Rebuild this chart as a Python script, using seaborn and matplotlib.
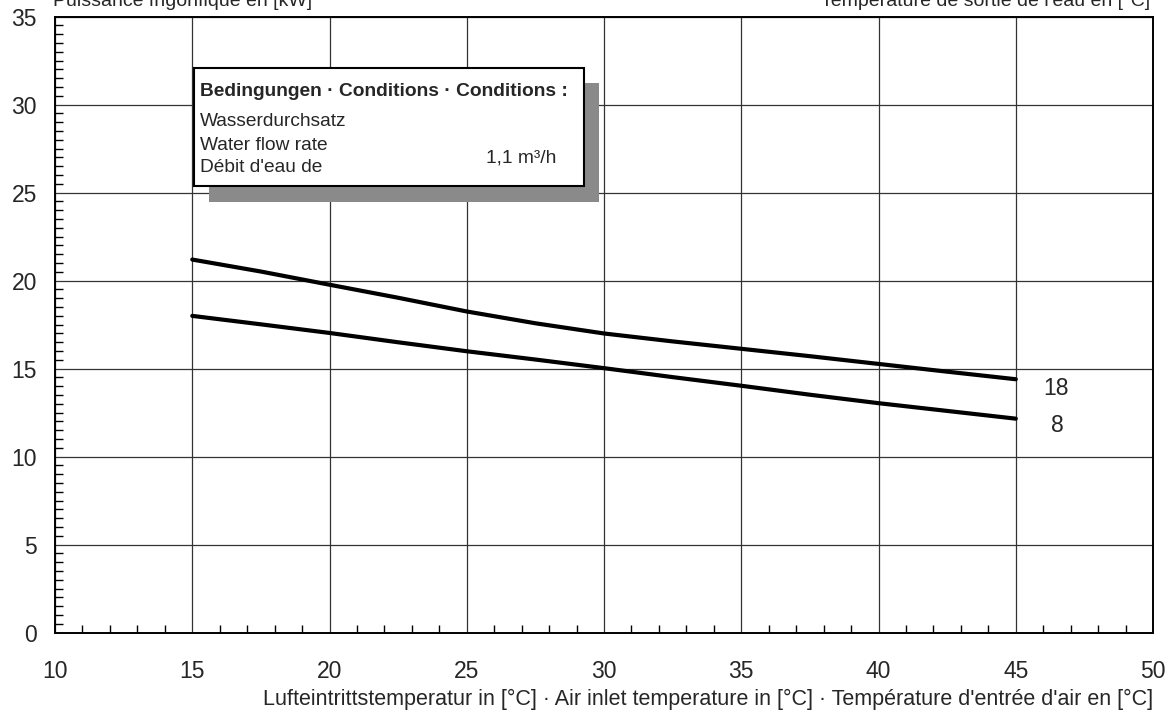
import seaborn as sns
import pandas as pd
import matplotlib.pyplot as plt
from matplotlib.patches import Rectangle
from matplotlib.ticker import MultipleLocator

# data
air_temp = [15, 17.5, 20, 22.5, 25, 27.5, 30, 32.5, 35, 37.5, 40, 42.5, 45]
power_18 = [21.2, 20.52, 19.77, 19.03, 18.25, 17.58, 17.0, 16.55, 16.13, 15.71, 15.27, 14.83, 14.4]
power_8 = [18.0, 17.52, 17.03, 16.5, 15.99, 15.52, 15.03, 14.52, 14.03, 13.52, 13.04, 12.6, 12.16]
curve_names = ["18", "8"]

sns.set_style("white")
plt.rcParams['font.family'] = ['Liberation Sans', 'DejaVu Sans']

data = pd.DataFrame({
    "air": air_temp * 2,
    "power": power_18 + power_8,
    "water": [curve_names[0]] * len(air_temp) + [curve_names[1]] * len(air_temp),
})

fig = plt.figure(figsize=(11.73, 7.10), dpi=100)
ax = fig.add_axes([0.0469, 0.1089, 0.9361, 0.8676])

sns.lineplot(data=data, x="air", y="power", hue="water",
             palette={"18": "black", "8": "black"},
             linewidth=3, legend=False, ax=ax,
             solid_capstyle="round", solid_joinstyle="round")

ax.set_xlim(10, 50)
ax.set_ylim(0, 35)
ax.xaxis.set_major_locator(MultipleLocator(5))
ax.yaxis.set_major_locator(MultipleLocator(5))
ax.xaxis.set_minor_locator(MultipleLocator(1))
ax.yaxis.set_minor_locator(MultipleLocator(0.5))
ax.grid(True, which="major", color="#333333", linewidth=0.9)
ax.tick_params(which="major", length=0, labelsize=16.5)
ax.tick_params(axis="x", which="major", pad=20)
ax.tick_params(axis="y", which="major", pad=13)
ax.tick_params(which="minor", direction="in", length=6, width=1, color="black")
ax.tick_params(axis="x", which="minor", top=False, bottom=True)
ax.tick_params(axis="y", which="minor", left=True, right=False)
for s in ax.spines.values():
    s.set_color("black")
    s.set_linewidth(1.4)

ax.set_ylabel("")
ax.set_xlabel("Lufteintrittstemperatur in [°C] · Air inlet temperature in [°C] · Température d'entrée d'air en [°C]",
              fontsize=15.5, loc="right", labelpad=4)

# curve labels
ax.text(46.45, 13.9, curve_names[0], fontsize=16.5, ha="center", va="center")
ax.text(46.5, 11.8, curve_names[1], fontsize=16.5, ha="center", va="center")

# conditions box with shadow
ax.add_patch(Rectangle((15.61, 24.49), 14.19, 6.74, facecolor="#8a8a8a",
                       edgecolor="none", zorder=4))
ax.add_patch(Rectangle((15.06, 25.38), 14.21, 6.70, facecolor="white",
                       edgecolor="black", linewidth=1.5, zorder=5))
ax.text(15.28, 30.5, "Bedingungen · Conditions · Conditions :", fontsize=13.8,
        fontweight="bold", zorder=6)
ax.text(15.28, 28.8, "Wasserdurchsatz", fontsize=13.8, zorder=6)
ax.text(15.28, 27.43, "Water flow rate", fontsize=13.8, zorder=6)
ax.text(15.28, 26.2, "Débit d'eau de", fontsize=13.8, zorder=6)
ax.text(25.7, 26.69, "1,1 m³/h", fontsize=13.8, zorder=6)

# top labels, cut off at the figure edge as in the original
fig.text(53 / 1173, 1 - 6 / 710, "Puissance frigorifique en [kW]", fontsize=14,
         ha="left", va="baseline")
fig.text(1150 / 1173, 1 - 6 / 710, "Température de sortie de l'eau en [°C]", fontsize=14,
         ha="right", va="baseline")

fig.savefig("out.png", dpi=100)
